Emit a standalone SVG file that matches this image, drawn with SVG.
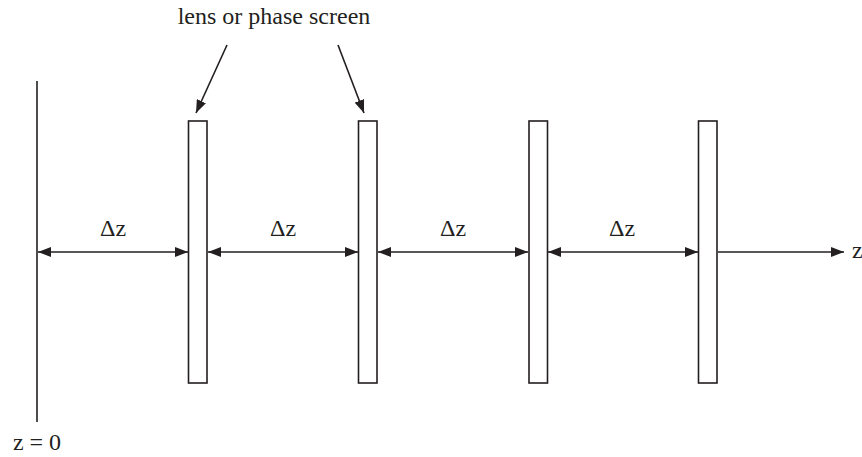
<svg xmlns="http://www.w3.org/2000/svg" width="862" height="457" viewBox="0 0 862 457">
<style>
.ln{stroke:#231f20;stroke-width:1.6;fill:none}
.pl{stroke:#231f20;stroke-width:1.6;fill:#fff}
.t{font-family:"Liberation Serif",serif;font-size:24px;fill:#231f20}
</style>
<defs>
<marker id="ah" viewBox="0 0 13 10" refX="13" refY="5" markerWidth="13" markerHeight="10" markerUnits="userSpaceOnUse" orient="auto-start-reverse">
<path d="M0,0 L13,5 L0,10 Z" fill="#231f20"/>
</marker>
</defs>
<g id="zero-plane">
<line class="ln" x1="37" y1="81" x2="37" y2="422"/>
<text class="t" x="37" y="450" text-anchor="middle">z = 0</text>
</g>
<g id="plate1"><rect class="pl" x="188.5" y="121" width="18.5" height="262"/></g>
<g id="plate2"><rect class="pl" x="358.5" y="121" width="18.5" height="262"/></g>
<g id="plate3"><rect class="pl" x="529" y="121" width="18.5" height="262"/></g>
<g id="plate4"><rect class="pl" x="698.5" y="121" width="18.5" height="262"/></g>
<g id="label"><text class="t" x="274" y="24" text-anchor="middle">lens or phase screen</text></g>
<g id="connectors">
<line class="ln" x1="227" y1="45" x2="196" y2="113" marker-end="url(#ah)"/>
<line class="ln" x1="338" y1="45" x2="364" y2="113" marker-end="url(#ah)"/>
<line class="ln" x1="38" y1="252" x2="188" y2="252" marker-start="url(#ah)" marker-end="url(#ah)"/>
<line class="ln" x1="208" y1="252" x2="358" y2="252" marker-start="url(#ah)" marker-end="url(#ah)"/>
<line class="ln" x1="378" y1="252" x2="528" y2="252" marker-start="url(#ah)" marker-end="url(#ah)"/>
<line class="ln" x1="548" y1="252" x2="698" y2="252" marker-start="url(#ah)" marker-end="url(#ah)"/>
<line class="ln" x1="718" y1="252" x2="844" y2="252" marker-end="url(#ah)"/>
</g>
<g id="dz-labels">
<text class="t" x="113" y="236" text-anchor="middle">Δz</text>
<text class="t" x="283" y="236" text-anchor="middle">Δz</text>
<text class="t" x="453" y="236" text-anchor="middle">Δz</text>
<text class="t" x="622" y="236" text-anchor="middle">Δz</text>
<text class="t" x="852" y="258">z</text>
</g>
</svg>
